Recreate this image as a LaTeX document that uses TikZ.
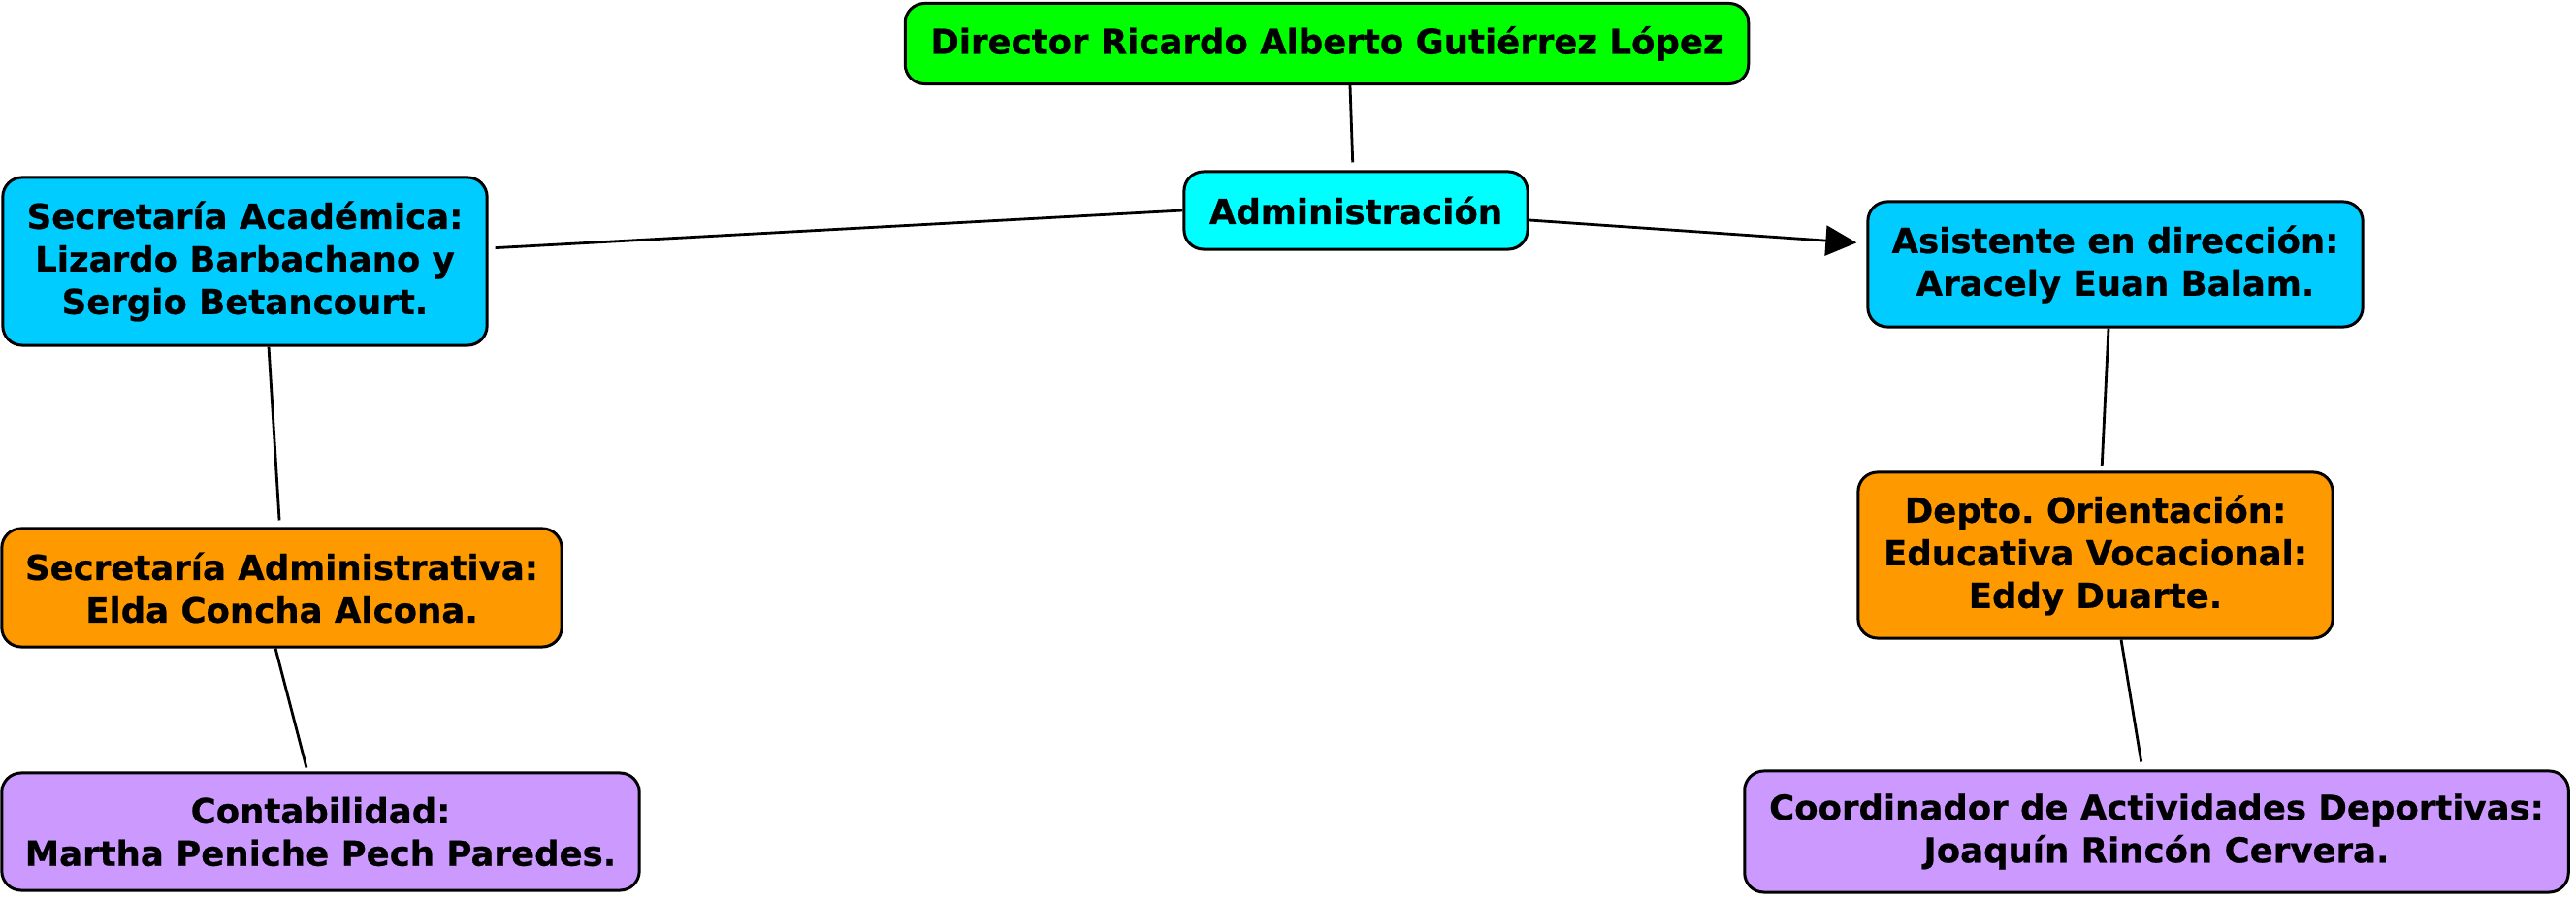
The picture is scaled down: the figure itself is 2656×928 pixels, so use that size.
\documentclass[tikz,border=0pt]{standalone}
\usepackage{fontspec}
\setmainfont{DejaVu Sans}[BoldFeatures={FakeBold=0.6}]
\usetikzlibrary{calc,arrows.meta}
\definecolor{cgreen}{HTML}{00FF00}
\definecolor{ccyan}{HTML}{00FFFF}
\definecolor{cblue}{HTML}{00CCFF}
\definecolor{corange}{HTML}{FF9900}
\definecolor{cpurple}{HTML}{CC99FF}
\frenchspacing
\begin{document}
\begin{tikzpicture}[x=0.01cm,y=-0.01cm,
  box/.style={draw=black, line width=0.03cm, rounded corners=0.2cm, align=center,
    inner sep=0pt, font=\fontsize{10.1pt}{12.5pt}\selectfont\bfseries},
  conn/.style={draw=black, line width=0.028cm},
  arr/.style={conn, -{Triangle[length=0.32cm,width=0.31cm]}}
]
\useasboundingbox (0,0) rectangle (2656,928);

\node[box, fill=cgreen, minimum width=8.69cm, minimum height=0.83cm] (dir) at (1368,45)
  {Director Ricardo Alberto Gutiérrez López};
\node[box, fill=ccyan, minimum width=3.54cm, minimum height=0.80cm] (adm) at (1398,217)
  {Administración};
\node[box, fill=cblue, minimum width=4.99cm, minimum height=1.73cm] (sac) at (252.5,269.5)
  {Secretaría Académica:\\Lizardo Barbachano y\\Sergio Betancourt.};
\node[box, fill=cblue, minimum width=5.10cm, minimum height=1.29cm] (asi) at (2181,272.5)
  {Asistente en dirección:\\Aracely Euan Balam.};
\node[box, fill=corange, minimum width=5.77cm, minimum height=1.22cm] (sad) at (290.5,606)
  {Secretaría Administrativa:\\Elda Concha Alcona.};
\node[box, fill=corange, minimum width=4.89cm, minimum height=1.71cm] (dep) at (2160.5,572.5)
  {Depto. Orientación:\\Educativa Vocacional:\\Eddy Duarte.};
\node[box, fill=cpurple, minimum width=6.57cm, minimum height=1.21cm] (con) at (330.5,857.5)
  {Contabilidad:\\Martha Peniche Pech Paredes.};
\node[box, fill=cpurple, minimum width=8.49cm, minimum height=1.25cm] (coo) at (2223.5,857.5)
  {Coordinador de Actividades Deportivas:\\Joaquín Rincón Cervera.};

\draw[conn, shorten >=0.08cm] ($(dir.south)+(24,0)$) -- ($(adm.north)+(-3,0)$);
\draw[conn, shorten >=0.07cm] (adm.west) -- ($(sac.east)+(0,-13.5)$);
\draw[arr, shorten >=0.10cm] ($(adm.east)+(0,10)$) -- ($(asi.west)+(0,-21.5)$);
\draw[conn, shorten >=0.07cm] ($(sac.south)+(24.5,0)$) -- ($(sad.north)+(-2,0)$);
\draw[conn, shorten >=0.04cm] ($(sad.south)+(-6.5,0)$) -- ($(con.north)+(-13.5,0)$);
\draw[conn, shorten >=0.05cm] ($(asi.south)+(-7,0)$) -- ($(dep.north)+(6.5,0)$);
\draw[conn, shorten >=0.08cm] ($(dep.south)+(26.5,0)$) -- ($(coo.north)+(-14.5,0)$);
\end{tikzpicture}
\end{document}
